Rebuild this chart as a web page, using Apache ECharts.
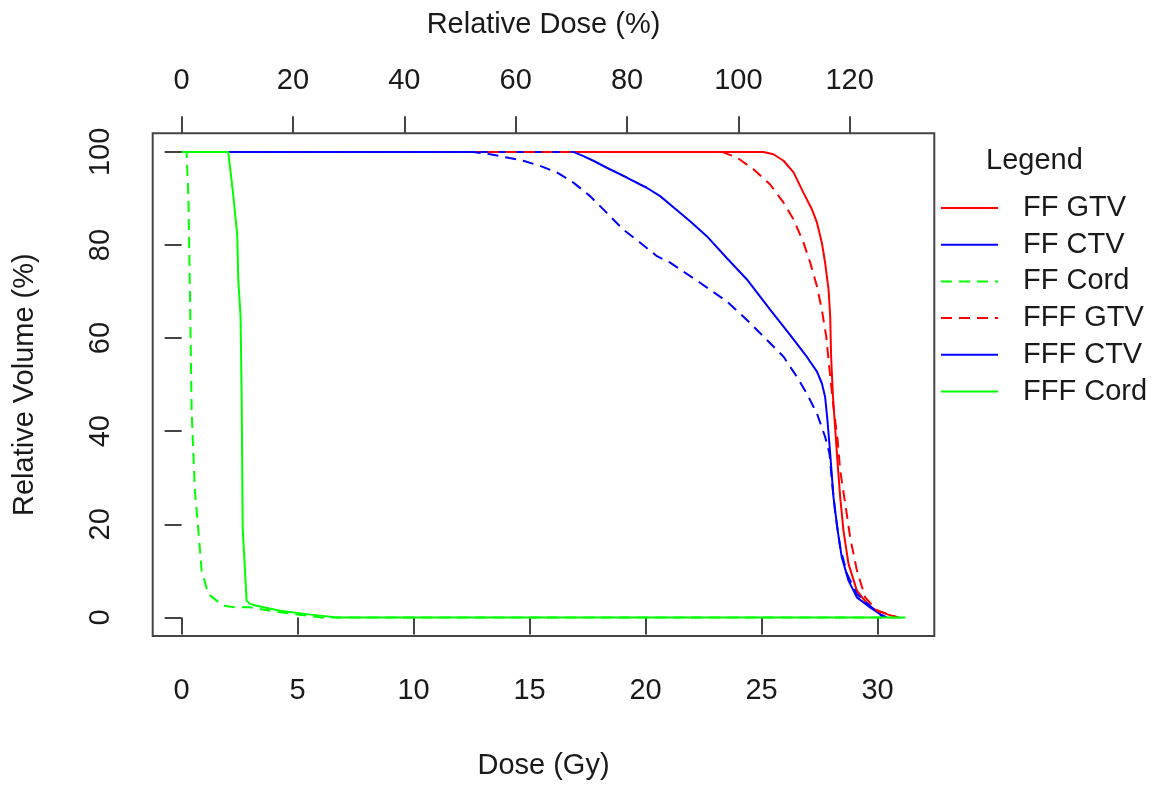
<!DOCTYPE html>
<html>
<head>
<meta charset="utf-8">
<script src="https://cdn.jsdelivr.net/npm/echarts@6/dist/echarts.min.js"></script>
<style>
html,body{margin:0;padding:0;background:#fff;}
#chart{width:1173px;height:789px;}
</style>
</head>
<body>
<div id="chart"></div>
<script>
// ---- Data ----
const seriesNames = ['FF GTV', 'FF CTV', 'FF Cord', 'FFF GTV', 'FFF CTV', 'FFF Cord'];

const ffGtvDose = [0, 25.08, 25.51, 25.95, 26.38, 26.81, 27.17, 27.39, 27.60, 27.74, 27.89, 27.96, 28.00, 28.08, 28.18, 28.28, 28.39, 28.53, 28.75, 29.11, 29.68, 30.40, 30.84];
const ffGtvVol  = [100, 100, 99.5, 98.1, 95.6, 91.2, 87.7, 84.8, 80.5, 76.2, 70.4, 64.7, 56.0, 47.4, 40.2, 33.1, 25.9, 18.7, 11.5, 5.75, 2.15, 0.7, 0];

const ffCtvDose = [0, 16.89, 17.32, 17.75, 18.33, 19.19, 19.77, 20.05, 20.63, 21.06, 21.92, 22.64, 23.50, 24.37, 25.37, 26.23, 26.95, 27.39, 27.60, 27.74, 27.84, 27.96, 28.10, 28.28, 28.46, 28.75, 29.11, 29.68, 30.11, 30.40];
const ffCtvVol  = [100, 100, 99.1, 98.1, 96.6, 94.5, 93.0, 92.3, 90.5, 88.7, 85.1, 81.9, 77.2, 72.6, 66.1, 60.7, 56.0, 52.8, 50.3, 47.4, 42.4, 35.2, 25.9, 18.7, 12.9, 7.9, 4.3, 2.15, 0.7, 0];

const ffCordDose = [0, 0.21, 0.29, 0.36, 0.43, 0.57, 0.72, 0.86, 1.15, 1.79, 2.37, 2.95, 4.24, 5.39, 6.0, 31.2];
const ffCordVol  = [100, 100, 90.5, 69.0, 44.5, 27.3, 18.7, 10.1, 5.0, 2.5, 2.15, 2.15, 1.1, 0.37, 0, 0];

const fffGtvDose = [0, 23.29, 23.94, 24.65, 25.37, 25.95, 26.38, 26.81, 27.10, 27.39, 27.60, 27.79, 27.93, 28.10, 28.28, 28.39, 28.61, 28.82, 29.11, 29.47, 29.97, 30.90];
const fffGtvVol  = [100, 100, 98.8, 96.3, 93.0, 89.1, 85.5, 80.5, 76.2, 71.1, 66.1, 60.3, 53.2, 45.3, 38.1, 31.6, 24.4, 17.2, 10.1, 4.3, 1.44, 0];

const fffCtvDose = [0, 12.58, 13.30, 14.02, 14.73, 15.45, 16.17, 16.89, 17.61, 18.33, 19.04, 19.77, 20.49, 21.06, 22.35, 23.50, 24.37, 25.23, 25.95, 26.52, 26.95, 27.39, 27.74, 27.93, 28.03, 28.18, 28.39, 28.68, 29.11, 29.83, 30.25];
const fffCtvVol  = [100, 100, 99.5, 98.8, 98.1, 97.0, 95.6, 93.4, 90.5, 86.9, 83.3, 80.5, 77.6, 76.2, 71.9, 67.9, 63.9, 59.6, 56.0, 51.7, 48.1, 43.8, 38.8, 35.2, 29.5, 22.3, 15.1, 9.4, 5.0, 1.8, 0];

const fffCordDose = [0, 2.01, 2.23, 2.40, 2.44, 2.54, 2.59, 2.63, 2.80, 2.95, 3.23, 4.24, 5.39, 6.68, 31.2];
const fffCordVol  = [100, 100, 90.5, 81.9, 72.6, 64.7, 46.0, 19.4, 3.6, 2.9, 2.5, 1.44, 0.7, 0, 0];

const doseTicks = [0, 5, 10, 15, 20, 25, 30];
const relDoseTicks = [0, 20, 40, 60, 80, 100, 120];
const volTicks = [0, 20, 40, 60, 80, 100];
const prescriptionGy = 24; // 100 % relative dose

// ---- Chart ----
const FONT = "'Liberation Sans', Arial, Helvetica, sans-serif";
const TXT = '#1a1a1a';
const AX = '#444';
const FS = 29;

const doseMin = -1.248, doseMax = 32.448;

function pairs(x, y) { return x.map((v, i) => [v, y[i]]); }

const styles = [
  {color: '#ff0000', type: 'solid'},
  {color: '#0000ff', type: 'solid'},
  {color: '#00ff00', type: [11, 7]},
  {color: '#ff0000', type: [11, 7]},
  {color: '#0000ff', type: [11, 7]},
  {color: '#00ff00', type: 'solid'}
];
const dataSets = [
  pairs(ffGtvDose, ffGtvVol),
  pairs(ffCtvDose, ffCtvVol),
  pairs(ffCordDose, ffCordVol),
  pairs(fffGtvDose, fffGtvVol),
  pairs(fffCtvDose, fffCtvVol),
  pairs(fffCordDose, fffCordVol)
];

const chart = echarts.init(document.getElementById('chart'), null, {renderer: 'canvas'});
chart.setOption({
  animation: false,
  backgroundColor: '#ffffff',
  title: {
    text: 'Legend',
    left: 986,
    top: 146,
    padding: 0,
    textStyle: {fontFamily: FONT, fontSize: FS, fontWeight: 'normal', color: TXT, lineHeight: 29}
  },
  legend: {
    orient: 'vertical',
    left: 940,
    top: 193,
    padding: 0,
    itemWidth: 57,
    itemHeight: 1,
    itemGap: 6.7,
    data: seriesNames.map(n => n === 'FFF CTV' ? {name: n, lineStyle: {type: 'solid'}} : {name: n}),
    lineStyle: {width: 2},
    textStyle: {fontFamily: FONT, fontSize: FS, color: TXT, lineHeight: 30, padding: [0, 0, 0, 20]}
  },
  grid: {
    left: 152.7, top: 133.3, width: 781.6, height: 502.7,
    show: true, borderColor: AX, borderWidth: 2, backgroundColor: 'transparent'
  },
  xAxis: [
    {
      type: 'value', position: 'bottom', min: doseMin, max: doseMax,
      name: 'Dose (Gy)', nameLocation: 'middle', nameGap: 115,
      nameTextStyle: {fontFamily: FONT, fontSize: FS, color: TXT},
      axisLine: {show: false},
      splitLine: {show: false},
      axisTick: {show: true, inside: false, length: 17, customValues: doseTicks, lineStyle: {color: AX, width: 2}},
      axisLabel: {customValues: doseTicks, margin: 40, fontFamily: FONT, fontSize: FS, color: TXT}
    },
    {
      type: 'value', position: 'top',
      min: doseMin / prescriptionGy * 100, max: doseMax / prescriptionGy * 100,
      name: 'Relative Dose (%)', nameLocation: 'middle', nameGap: 94,
      nameTextStyle: {fontFamily: FONT, fontSize: FS, color: TXT},
      axisLine: {show: false},
      splitLine: {show: false},
      axisTick: {show: true, inside: false, length: 17, customValues: relDoseTicks, lineStyle: {color: AX, width: 2}},
      axisLabel: {customValues: relDoseTicks, margin: 38, fontFamily: FONT, fontSize: FS, color: TXT}
    }
  ],
  yAxis: {
    type: 'value', min: -4, max: 104,
    name: 'Relative Volume (%)', nameLocation: 'middle', nameGap: 113, nameRotate: 90,
    nameTextStyle: {fontFamily: FONT, fontSize: FS, color: TXT},
    axisLine: {show: false},
    splitLine: {show: false},
    axisTick: {show: true, inside: false, length: 17, customValues: volTicks, lineStyle: {color: AX, width: 2}},
    axisLabel: {customValues: volTicks, rotate: 90, margin: 37, fontFamily: FONT, fontSize: FS, color: TXT}
  },
  series: seriesNames.map((n, i) => ({
    name: n,
    type: 'line',
    xAxisIndex: 0,
    yAxisIndex: 0,
    data: dataSets[i],
    showSymbol: false,
    symbol: 'none',
    smooth: false,
    lineStyle: {color: styles[i].color, width: 2, type: styles[i].type},
    itemStyle: {color: styles[i].color},
    emphasis: {disabled: true}
  }))
});
</script>
</body>
</html>
